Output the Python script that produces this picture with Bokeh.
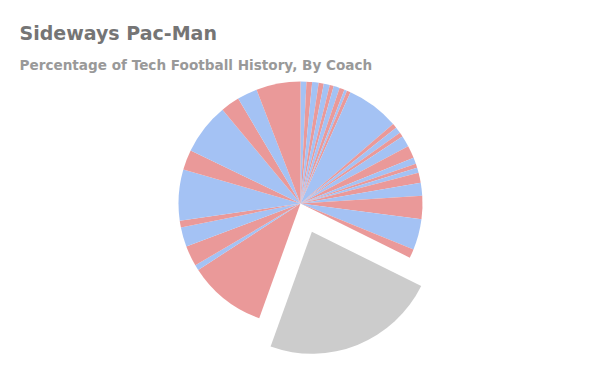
import numpy as np
from bokeh.plotting import figure
from bokeh.models import Label, Range1d, ColumnDataSource
from bokeh.embed import file_html
from bokeh.resources import INLINE

# Share of history per coach (percent), in chart order (clockwise from 12 o'clock)
shares = [0.78, 0.75, 0.86, 0.67, 0.80, 0.53, 0.80, 0.67, 0.36, 0.50,
          7.00, 0.61, 0.83, 0.58, 1.47, 1.67, 0.83, 0.56, 0.67, 1.33,
          1.72, 3.08, 4.08, 1.17, 23.17, 10.33, 0.72, 2.72, 2.58, 0.89,
          6.75, 2.67, 6.81, 2.50, 2.67, 5.86]
highlight_index = 24  # the exploded slice

BLUE = "#a4c2f4"
RED = "#ea9999"
GREY = "#cccccc"

W, H = 584, 355
p = figure(width=W, height=H, output_backend="svg", toolbar_location=None,
           x_range=Range1d(0, W), y_range=Range1d(0, H), min_border=0)
p.axis.visible = False
p.grid.visible = False
p.outline_line_color = None

cx, cy, r = 300.0, 152.0, 122.0
vals = np.array(shares, dtype=float)
frac = vals / vals.sum()
ends = np.cumsum(frac) * 2 * np.pi
starts = ends - frac * 2 * np.pi
# clockwise from top -> bokeh angle (counter-clockwise from +x)
start_ang = np.pi / 2 - ends
end_ang = np.pi / 2 - starts
colors = [GREY if i == highlight_index else (BLUE if i % 2 == 0 else RED)
          for i in range(len(vals))]
xs = np.full(len(vals), cx)
ys = np.full(len(vals), cy)
mid = (starts[highlight_index] + ends[highlight_index]) / 2
off = 0.25 * r
xs[highlight_index] += off * np.sin(mid)
ys[highlight_index] += off * np.cos(mid)

src = ColumnDataSource(dict(x=xs, y=ys, s=start_ang, e=end_ang, c=colors))
p.wedge(x="x", y="y", radius=r, start_angle="s", end_angle="e",
        fill_color="c", line_color=None, source=src)

p.add_layout(Label(x=19, y=H - 32, text="Sideways Pac-Man",
                   text_font="DejaVu Sans", text_font_style="bold",
                   text_font_size="19px", text_color="#757575",
                   text_baseline="alphabetic"))
p.add_layout(Label(x=19, y=H - 64, text="Percentage of Tech Football History, By Coach",
                   text_font="DejaVu Sans", text_font_style="bold",
                   text_font_size="13.6px", text_color="#999999",
                   text_baseline="alphabetic"))

open("out.html", "w").write(file_html(p, INLINE))
